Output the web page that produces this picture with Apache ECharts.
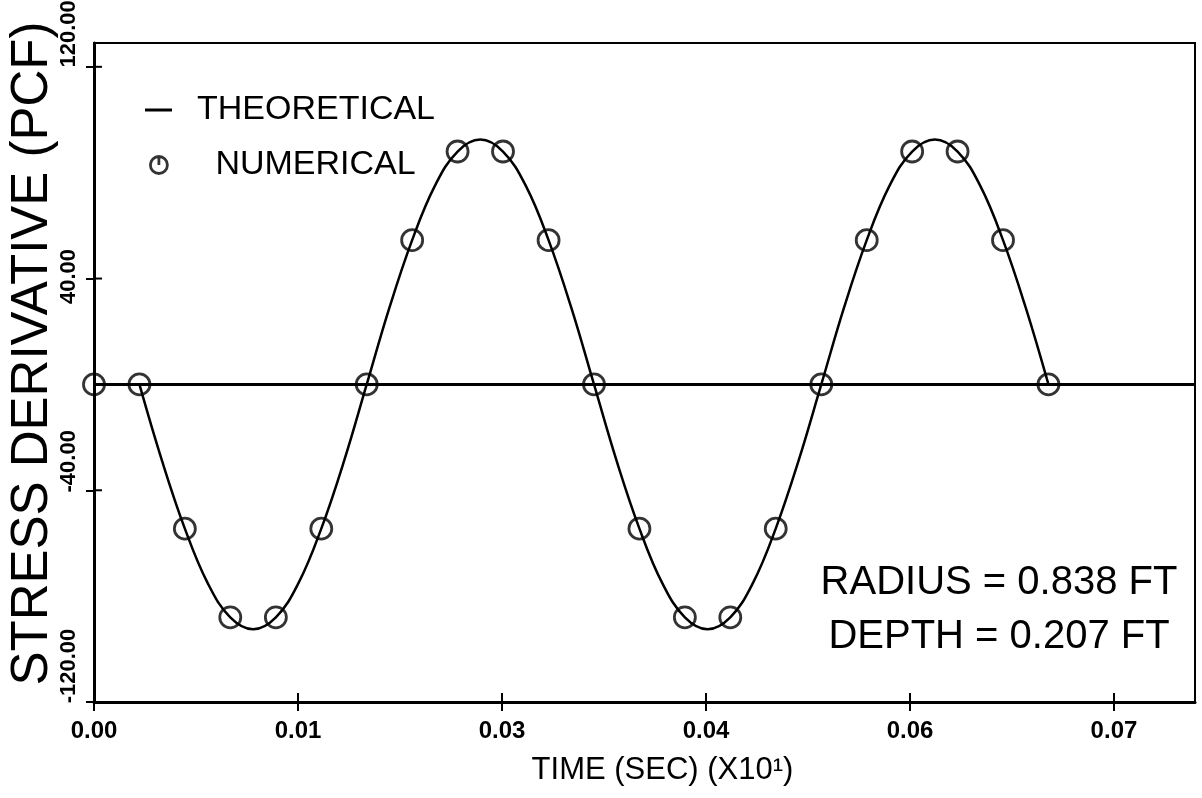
<!DOCTYPE html>
<html><head><meta charset="utf-8">
<script src="https://cdn.jsdelivr.net/npm/echarts@6/dist/echarts.min.js"></script>
<style>html,body{margin:0;padding:0;background:#fff}#c{width:1202px;height:798px}</style>
</head><body><div id="c"></div>
<script>
// ---- data ----
const numTime = [0, 0.00314, 0.00628, 0.00942, 0.01257, 0.01571, 0.01885, 0.02199, 0.02513, 0.02827, 0.03142,
  0.03456, 0.0377, 0.04084, 0.04398, 0.04712, 0.05027, 0.05341, 0.05655, 0.05969, 0.06283, 0.06597];
const numValue = [0, 0, -54.5, -88, -88, -54.5, 0, 54.5, 88, 88, 54.5,
  0, -54.5, -88, -88, -54.5, 0, 54.5, 88, 88, 54.5, 0];
const theoTime = [0.00314, 0.00471, 0.00628, 0.00785, 0.00942, 0.01100, 0.01257, 0.01414, 0.01571, 0.01728,
  0.01885, 0.02042, 0.02199, 0.02356, 0.02513, 0.02670, 0.02827, 0.02985, 0.03142, 0.03299,
  0.03456, 0.03613, 0.03770, 0.03927, 0.04084, 0.04241, 0.04398, 0.04555, 0.04712, 0.04869,
  0.05027, 0.05184, 0.05341, 0.05498, 0.05655, 0.05812, 0.05969, 0.06126, 0.06283, 0.06440, 0.06597];
const theoValue = [0, -29, -54.5, -75, -88, -92.5, -88, -75, -54.5, -29,
  0, 29, 54.5, 75, 88, 92.5, 88, 75, 54.5, 29,
  0, -29, -54.5, -75, -88, -92.5, -88, -75, -54.5, -29,
  0, 29, 54.5, 75, 88, 92.5, 88, 75, 54.5, 29, 0];
const xTicks = [0, 0.0141, 0.0282, 0.0423, 0.0564, 0.0705];
const xTickLabels = ['0.00', '0.01', '0.03', '0.04', '0.06', '0.07'];
const yTicks = [-120, -40, 40, 120];
const yTickLabels = ['-120.00', '-40.00', '40.00', '120.00'];
const xTitle = 'TIME (SEC) (X10\u00B9)';
const yTitle = 'STRESS DERIVATIVE (PCF)';
const seriesNames = ['THEORETICAL', 'NUMERICAL'];
const notes = ['RADIUS = 0.838 FT', 'DEPTH = 0.207 FT'];

// ---- chart ----
const FB = "'Liberation Sans', Arial, sans-serif";
const FR = "'Liberation Sans', Arial, sans-serif";
const INK = '#000';
const GL = 94, GR = 7, GT = 43, GB = 96;
const X_MIN = 0, X_MAX = 0.0761, Y_MIN = -120, Y_MAX = 129;
// upward shift (px) of each rotated y tick label, as placed in the picture
const yLabelShift = [36, 29, 2, 33];
function xLab(v) {
  for (let i = 0; i < xTicks.length; i++) if (Math.abs(v - xTicks[i]) < 1e-7) return xTickLabels[i];
  return '';
}
function yLab(v) {
  for (let i = 0; i < yTicks.length; i++) if (Math.abs(v - yTicks[i]) < 1e-7) return '{y' + i + '|' + yTickLabels[i] + '}';
  return '';
}
const yRich = {};
yLabelShift.forEach((s, i) => {
  yRich['y' + i] = { color: INK, fontFamily: FB, fontWeight: 'bold', fontSize: 22, padding: [0, 0, 0, 2 * s] };
});
const tickStyle = { color: INK, width: 2 };
const axisLineStyle = { show: true, onZero: false, lineStyle: { color: INK, width: 3 } };
const noteGraphics = notes.map((t, i) => ({
  type: 'text', id: 'note' + i, x: 999, y: 583 + i * 54, silent: true,
  style: { text: t, align: 'center', verticalAlign: 'middle', fill: INK, fontFamily: FR, fontSize: 40 }
}));

const chart = echarts.init(document.getElementById('c'), null, { renderer: 'canvas' });
chart.setOption({
  animation: false,
  backgroundColor: '#fff',
  grid: { left: GL, right: GR, top: GT, bottom: GB, containLabel: false, outerBoundsMode: 'none',
    show: true, borderColor: INK, borderWidth: 2 },
  xAxis: {
    type: 'value', min: X_MIN, max: X_MAX, splitLine: { show: false },
    position: 'bottom', axisLine: axisLineStyle,
    axisTick: { show: true, inside: false, length: 9, customValues: xTicks, lineStyle: tickStyle },
    axisLabel: { customValues: xTicks, formatter: xLab, margin: 17, color: INK,
      fontFamily: FB, fontWeight: 'bold', fontSize: 24 },
    name: xTitle, nameLocation: 'middle', nameGap: 53, nameMoveOverlap: false,
    nameTextStyle: { color: INK, fontFamily: FR, fontSize: 31, padding: [0, 0, 0, 36] }
  },
  yAxis: {
    type: 'value', min: Y_MIN, max: Y_MAX, splitLine: { show: false },
    position: 'left', axisLine: axisLineStyle,
    axisTick: { show: true, inside: false, length: 8, customValues: yTicks, lineStyle: tickStyle },
    axisLabel: { customValues: yTicks, formatter: yLab, rotate: 90, margin: 14, color: INK,
      fontFamily: FB, fontWeight: 'bold', fontSize: 22, rich: yRich },
    name: yTitle, nameLocation: 'middle', nameGap: 36, nameMoveOverlap: false,
    nameTextStyle: { color: INK, fontFamily: FR, fontSize: 51, padding: [0, 0, 0, 38] }
  },
  legend: [
    { data: [{ name: seriesNames[0], icon: 'rect' }], left: 140, top: 88, orient: 'vertical',
      itemWidth: 27, itemHeight: 3, selectedMode: false,
      itemStyle: { color: INK, borderWidth: 0 },
      textStyle: { color: INK, fontFamily: FR, fontSize: 34, padding: [0, 0, 0, 20] } },
    { data: [{ name: seriesNames[1], icon: 'path://M10,2 A8,8 0 1,1 9.99,2 Z M10,2 L10,10' }],
      left: 144, top: 143, orient: 'vertical', itemWidth: 17, itemHeight: 17, selectedMode: false,
      itemStyle: { color: 'rgba(255,255,255,0)', borderColor: INK, borderWidth: 2.8 },
      textStyle: { color: INK, fontFamily: FR, fontSize: 34, padding: [0, 0, 0, 43] } }
  ],
  series: [
    { name: seriesNames[0], type: 'line',
      data: theoTime.map((t, i) => [t, theoValue[i]]),
      smooth: 0.4, symbol: 'none', lineStyle: { color: INK, width: 2.5 }, itemStyle: { color: INK }, z: 2,
      markLine: { silent: true, symbol: ['none', 'none'], label: { show: false },
        lineStyle: { color: INK, width: 3, type: 'solid' }, data: [{ yAxis: 0 }] } },
    { name: seriesNames[1], type: 'scatter',
      data: numTime.map((t, i) => [t, numValue[i]]),
      symbol: 'circle', symbolSize: 21,
      itemStyle: { color: 'rgba(255,255,255,0)', borderColor: INK, borderWidth: 2.8 }, z: 3 }
  ],
  graphic: noteGraphics
});

// inward halves of the crossing ticks, placed through the chart's own scales
const inner = [];
const yBottom = chart.convertToPixel({ yAxisIndex: 0 }, Y_MIN);
const xLeft = chart.convertToPixel({ xAxisIndex: 0 }, X_MIN);
xTicks.forEach((t, i) => {
  const px = chart.convertToPixel({ xAxisIndex: 0 }, t);
  inner.push({ type: 'line', id: 'xt' + i, silent: true, z: 10,
    shape: { x1: px, y1: yBottom, x2: px, y2: yBottom - 9 }, style: { stroke: INK, lineWidth: 2 } });
});
yTicks.forEach((v, i) => {
  const py = chart.convertToPixel({ yAxisIndex: 0 }, v);
  inner.push({ type: 'line', id: 'yt' + i, silent: true, z: 10,
    shape: { x1: xLeft, y1: py, x2: xLeft + 8, y2: py }, style: { stroke: INK, lineWidth: 2 } });
});
chart.setOption({ graphic: noteGraphics.concat(inner) });
</script>
</body></html>
